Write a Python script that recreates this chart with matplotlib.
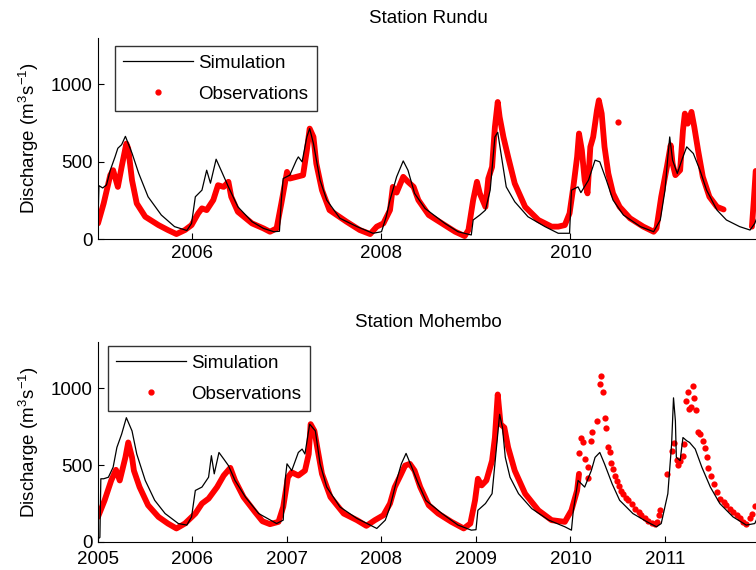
import matplotlib
matplotlib.use("Agg")
import matplotlib.pyplot as plt
from matplotlib.lines import Line2D

plt.rcParams["font.family"] = ["Liberation Sans", "DejaVu Sans"]
plt.rcParams["font.size"] = 13.5
plt.rcParams["mathtext.default"] = "regular"

# ---- Station Rundu (decimal years, discharge m3/s) ----
rundu_sim_t = [2005.00, 2005.01, 2005.05, 2005.09, 2005.13, 2005.18, 2005.21, 2005.25, 2005.29, 2005.36,
               2005.43, 2005.53, 2005.67, 2005.81, 2005.94, 2005.99, 2006.03, 2006.10, 2006.15, 2006.19,
               2006.25, 2006.31, 2006.38, 2006.48, 2006.63, 2006.75, 2006.86, 2006.92, 2006.94, 2006.96,
               2007.03, 2007.10, 2007.12, 2007.16, 2007.21, 2007.24, 2007.28, 2007.35, 2007.42, 2007.56,
               2007.74, 2007.91, 2008.00, 2008.05, 2008.09, 2008.16, 2008.23, 2008.28, 2008.35, 2008.46,
               2008.67, 2008.81, 2008.95, 2008.97, 2009.04, 2009.10, 2009.15, 2009.20, 2009.23, 2009.27,
               2009.32, 2009.41, 2009.55, 2009.73, 2009.87, 2009.99, 2010.01, 2010.08, 2010.11, 2010.19,
               2010.26, 2010.31, 2010.38, 2010.45, 2010.56, 2010.74, 2010.88, 2010.95, 2011.00, 2011.03,
               2011.05, 2011.08, 2011.13, 2011.19, 2011.23, 2011.30, 2011.37, 2011.44, 2011.55, 2011.65,
               2011.79, 2011.90, 2011.95, 2011.98]
rundu_sim_q = [120, 345, 330, 350, 445, 531, 587, 610, 664, 555,
               426, 273, 155, 80, 55, 101, 273, 316, 445, 361,
               516, 434, 337, 208, 112, 69, 47, 50, 252, 391,
               413, 510, 531, 499, 660, 714, 617, 380, 252, 134,
               80, 37, 47, 144, 252, 402, 505, 445, 295, 198,
               101, 47, 26, 123, 155, 187, 316, 660, 690, 531,
               337, 241, 144, 80, 37, 37, 316, 337, 300, 380,
               510, 499, 380, 252, 155, 80, 47, 123, 316, 531,
               660, 510, 424, 531, 596, 553, 445, 316, 187, 123,
               80, 58, 101, 150]

rundu_obs_t = [2005.00, 2005.06, 2005.13, 2005.16, 2005.21, 2005.25, 2005.30, 2005.32, 2005.36, 2005.41,
               2005.50, 2005.64, 2005.74, 2005.83, 2005.92, 2005.99, 2006.06, 2006.10, 2006.15, 2006.22,
               2006.27, 2006.33, 2006.38, 2006.41, 2006.48, 2006.63, 2006.75, 2006.82, 2006.89, 2006.94,
               2007.00, 2007.03, 2007.10, 2007.17, 2007.21, 2007.24, 2007.28, 2007.31, 2007.37, 2007.45,
               2007.63, 2007.77, 2007.88, 2007.95, 2008.02, 2008.09, 2008.12, 2008.16, 2008.23, 2008.28,
               2008.34, 2008.39, 2008.50, 2008.64, 2008.78, 2008.88, 2008.92, 2008.97, 2009.01, 2009.04,
               2009.10, 2009.13, 2009.17, 2009.20, 2009.23, 2009.25, 2009.29, 2009.34, 2009.41, 2009.52,
               2009.66, 2009.80, 2009.87, 2009.94, 2009.99, 2010.03, 2010.07, 2010.09, 2010.12, 2010.15,
               2010.18, 2010.21, 2010.24, 2010.28, 2010.30, 2010.33, 2010.36, 2010.40, 2010.45, 2010.52,
               2010.63, 2010.77, 2010.88, 2010.91, 2010.96, 2011.02, 2011.06, 2011.08, 2011.11, 2011.16,
               2011.19, 2011.21, 2011.24, 2011.28, 2011.31, 2011.35, 2011.40, 2011.47, 2011.55, 2011.62]
rundu_obs_q = [101, 230, 413, 445, 337, 466, 617, 585, 380, 230,
               144, 90, 58, 32, 58, 90, 166, 198, 187, 252,
               348, 337, 370, 273, 176, 101, 69, 47, 69, 230,
               434, 391, 402, 413, 574, 714, 660, 488, 316, 187,
               112, 58, 32, 80, 101, 187, 337, 300, 402, 370,
               337, 252, 155, 101, 47, 19, 58, 252, 370, 295,
               208, 391, 466, 724, 886, 789, 660, 531, 359, 208,
               123, 80, 80, 90, 166, 337, 531, 682, 574, 380,
               295, 596, 660, 832, 897, 811, 596, 424, 295, 208,
               134, 80, 47, 69, 273, 466, 606, 488, 413, 445,
               703, 811, 746, 822, 724, 574, 402, 273, 208, 191]
rundu_obs_late_t = [2011.92, 2011.94, 2011.96]
rundu_obs_late_q = [80, 250, 440]
rundu_obs_stray_t = [2010.50]
rundu_obs_stray_q = [757]

# ---- Station Mohembo ----
mohembo_sim_t = [2005.00, 2005.02, 2005.03, 2005.06, 2005.11, 2005.16, 2005.20, 2005.25, 2005.30, 2005.36,
                 2005.41, 2005.50, 2005.60, 2005.71, 2005.85, 2005.94, 2005.99, 2006.03, 2006.10, 2006.17,
                 2006.20, 2006.23, 2006.28, 2006.33, 2006.38, 2006.45, 2006.56, 2006.70, 2006.89, 2006.96,
                 2006.98, 2007.00, 2007.05, 2007.12, 2007.16, 2007.19, 2007.24, 2007.30, 2007.35, 2007.42,
                 2007.56, 2007.74, 2007.88, 2007.95, 2008.04, 2008.09, 2008.16, 2008.21, 2008.26, 2008.32,
                 2008.39, 2008.47, 2008.64, 2008.81, 2008.95, 2009.00, 2009.02, 2009.10, 2009.17, 2009.22,
                 2009.25, 2009.28, 2009.31, 2009.36, 2009.45, 2009.59, 2009.77, 2009.94, 2010.01, 2010.03,
                 2010.08, 2010.15, 2010.22, 2010.26, 2010.31, 2010.36, 2010.44, 2010.52, 2010.66, 2010.81,
                 2010.91, 2010.96, 2011.03, 2011.07, 2011.09, 2011.11, 2011.12, 2011.16, 2011.19, 2011.23,
                 2011.26, 2011.32, 2011.39, 2011.48, 2011.58, 2011.72, 2011.86, 2011.95, 2011.98]
mohembo_sim_q = [20, 30, 411, 411, 421, 486, 615, 701, 808, 722,
                 572, 400, 271, 185, 120, 110, 163, 335, 357, 421,
                 561, 443, 582, 540, 497, 400, 292, 185, 120, 142,
                 400, 508, 464, 582, 604, 572, 766, 722, 508, 357,
                 228, 153, 110, 88, 142, 228, 400, 508, 576, 486,
                 379, 270, 185, 110, 77, 80, 206, 250, 314, 637,
                 830, 744, 550, 421, 314, 217, 142, 99, 77, 206,
                 400, 357, 464, 550, 582, 508, 379, 271, 185, 131,
                 99, 120, 314, 637, 937, 787, 550, 529, 679, 658,
                 647, 604, 486, 357, 250, 163, 110, 120, 160]

mohembo_obs_t = [2005.00, 2005.07, 2005.14, 2005.19, 2005.23, 2005.29, 2005.32, 2005.36, 2005.38, 2005.44,
                 2005.53, 2005.64, 2005.74, 2005.83, 2005.92, 2006.03, 2006.10, 2006.17, 2006.26, 2006.33,
                 2006.40, 2006.45, 2006.54, 2006.66, 2006.74, 2006.82, 2006.91, 2006.96, 2007.01, 2007.05,
                 2007.12, 2007.19, 2007.23, 2007.25, 2007.29, 2007.32, 2007.37, 2007.46, 2007.60, 2007.74,
                 2007.84, 2007.93, 2008.02, 2008.09, 2008.14, 2008.20, 2008.25, 2008.30, 2008.35, 2008.41,
                 2008.50, 2008.60, 2008.74, 2008.87, 2008.94, 2008.99, 2009.02, 2009.06, 2009.11, 2009.17,
                 2009.20, 2009.23, 2009.26, 2009.30, 2009.34, 2009.41, 2009.52, 2009.66, 2009.80, 2009.94,
                 2010.01, 2010.07, 2010.09]
mohembo_obs_q = [163, 271, 400, 469, 400, 550, 647, 550, 464, 357,
                 239, 163, 120, 88, 120, 185, 250, 282, 357, 432,
                 482, 400, 292, 196, 135, 116, 131, 228, 421, 453,
                 432, 464, 572, 766, 722, 615, 443, 292, 185, 142,
                 105, 142, 174, 250, 357, 432, 497, 508, 464, 357,
                 239, 185, 131, 88, 120, 271, 411, 368, 400, 529,
                 679, 959, 766, 744, 615, 464, 314, 206, 142, 131,
                 206, 335, 443]
mohembo_obs_sparse_t = [2010.09, 2010.11, 2010.13, 2010.15, 2010.18, 2010.19, 2010.22, 2010.23, 2010.28, 2010.31,
                        2010.32, 2010.34, 2010.36, 2010.38, 2010.40, 2010.42, 2010.43, 2010.45, 2010.47, 2010.49,
                        2010.51, 2010.53, 2010.56, 2010.59, 2010.61, 2010.65, 2010.68, 2010.72, 2010.75, 2010.79,
                        2010.82, 2010.86, 2010.89, 2010.92, 2010.94, 2010.95, 2011.02, 2011.07, 2011.09, 2011.13,
                        2011.14, 2011.16, 2011.19, 2011.20, 2011.22, 2011.24, 2011.25, 2011.28, 2011.30, 2011.31,
                        2011.33, 2011.35, 2011.37, 2011.40, 2011.42, 2011.44, 2011.46, 2011.49, 2011.52, 2011.55,
                        2011.58, 2011.62, 2011.65, 2011.69, 2011.72, 2011.76, 2011.79, 2011.83, 2011.86, 2011.90,
                        2011.92, 2011.95]
mohembo_obs_sparse_q = [578, 673, 647, 540, 486, 415, 658, 718, 787, 1030,
                        1082, 974, 808, 744, 619, 582, 514, 475, 432, 396,
                        361, 331, 314, 288, 271, 245, 217, 196, 174, 153,
                        138, 125, 120, 131, 174, 206, 443, 589, 641, 533,
                        503, 524, 561, 637, 916, 974, 866, 877, 1013, 933,
                        856, 718, 701, 658, 611, 550, 482, 432, 374, 324,
                        282, 260, 239, 217, 196, 174, 153, 131, 120, 153,
                        181, 232]

year_ticks_top = [2006, 2008, 2010]
year_ticks_bottom = [2005, 2006, 2007, 2008, 2009, 2010, 2011]
q_ticks = [0, 500, 1000]

RED = "#ff0000"
W, H = 756, 570
fig = plt.figure(figsize=(W / 100, H / 100), dpi=100)


def px_axes(left, top, right, bottom):
    return fig.add_axes([left / W, 1 - bottom / H, (right - left) / W, (bottom - top) / H])


def style(ax, title, xticks, legend_xy, xpad):
    ax.set_xlim(2005, 2005 + 660 / 94.5)
    ax.set_ylim(0, 1300)
    ax.set_xticks(xticks)
    ax.set_yticks(q_ticks)
    ax.tick_params(direction="in", length=4, width=0.8, pad=4)
    ax.tick_params(axis="x", pad=xpad)
    for s in ["top", "right"]:
        ax.spines[s].set_visible(False)
    ax.set_title(title, fontsize=13.5, pad=11)
    ax.set_ylabel("Discharge (m$^3$s$^{-1}$)", labelpad=7)
    handles = [Line2D([], [], color="black", lw=0.9),
               Line2D([], [], color=RED, marker=".", ls="none", ms=7)]
    leg = ax.legend(handles, ["Simulation", "Observations"], loc="upper left",
                    bbox_to_anchor=legend_xy, frameon=True, fancybox=False,
                    handlelength=3.7, handletextpad=0.3, labelspacing=0.75,
                    borderpad=0.45, borderaxespad=0, fontsize=13.5)
    leg.get_frame().set_edgecolor("black")
    leg.get_frame().set_linewidth(1.0)


# top panel
ax1 = px_axes(98, 38, 758, 239)
ax1.plot(rundu_obs_t, rundu_obs_q, color=RED, lw=4.2, solid_joinstyle="round", solid_capstyle="round")
ax1.plot(rundu_obs_late_t, rundu_obs_late_q, color=RED, lw=4.2, solid_capstyle="round")
ax1.plot(rundu_obs_stray_t, rundu_obs_stray_q, "o", color=RED, ms=4.5, mec="none")
ax1.plot(rundu_sim_t, rundu_sim_q, color="black", lw=0.9)
style(ax1, "Station Rundu", year_ticks_top, ((115 - 98) / 660, (239 - 46) / 201), 4)

# bottom panel
ax2 = px_axes(98, 342, 758, 542)
ax2.plot(mohembo_obs_t, mohembo_obs_q, color=RED, lw=4.2, solid_joinstyle="round", solid_capstyle="round")
ax2.plot(mohembo_obs_sparse_t, mohembo_obs_sparse_q, "o", color=RED, ms=4.5, mec="none")
ax2.plot(mohembo_sim_t, mohembo_sim_q, color="black", lw=0.9)
style(ax2, "Station Mohembo", year_ticks_bottom, ((108 - 98) / 660, (542 - 346) / 200), 6.5)

fig.savefig("out.png", dpi=100)
